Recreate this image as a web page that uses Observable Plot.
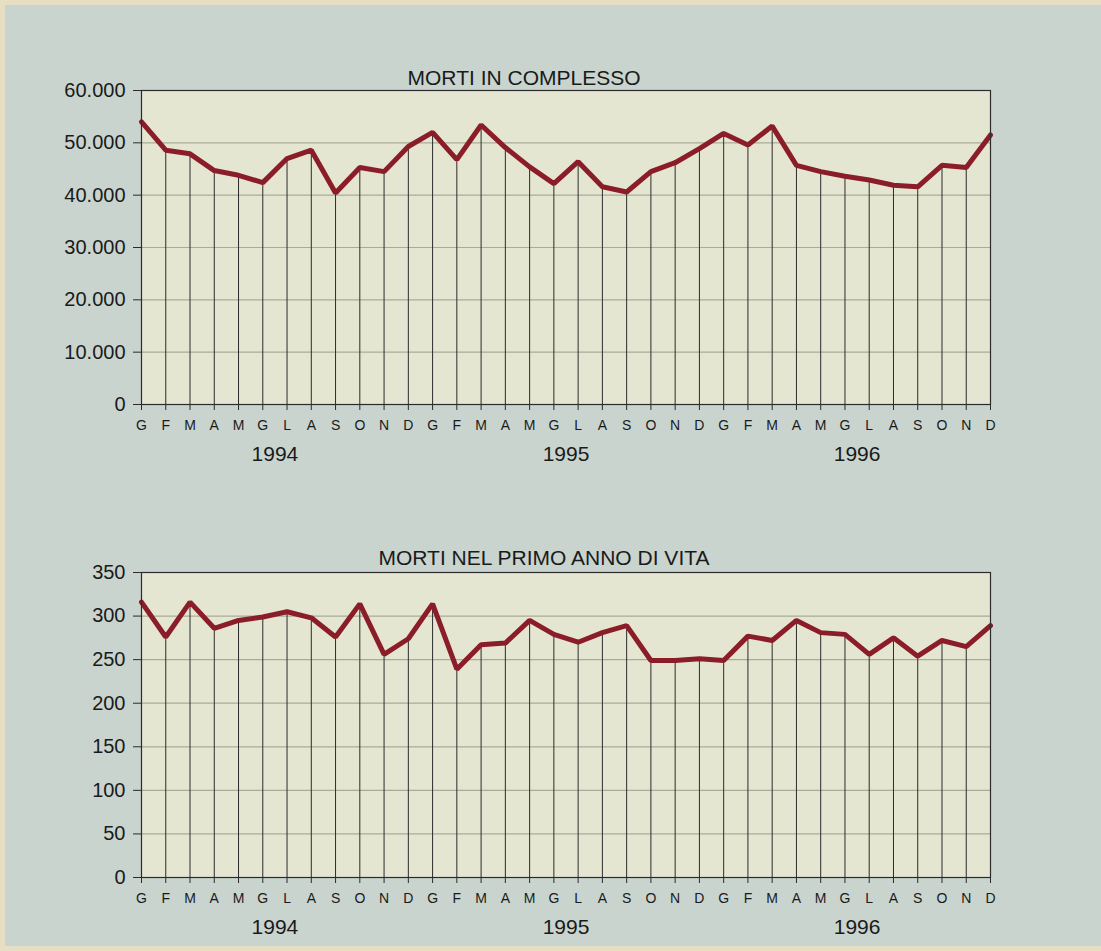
<!DOCTYPE html>
<html>
<head>
<meta charset="utf-8">
<script src="https://cdn.jsdelivr.net/npm/d3@7"></script>
<script src="https://cdn.jsdelivr.net/npm/@observablehq/plot@0.6"></script>
<style>
  html, body { margin: 0; padding: 0; }
  body { width: 1101px; height: 951px; background: #e6dfc3; overflow: hidden; font-family: "Liberation Sans", Arial, sans-serif; }
  #page { position: absolute; left: 5px; top: 5px; width: 1096px; height: 941px; background: #c9d4cf; }
  #top, #bottom { position: absolute; left: 0; }
  #top { top: 0; }
  #bottom { top: 475px; }
</style>
</head>
<body>
<div id="page"></div>
<div id="top"></div>
<div id="bottom"></div>
<script>
const months = ["G","F","M","A","M","G","L","A","S","O","N","D"];
const years = ["1994","1995","1996"];

const totale1994 = [54000,48600,47900,44700,43800,42400,47000,48600,40400,45300,44500,49300];
const totale1995 = [52000,46800,53400,49100,45400,42200,46400,41600,40600,44500,46200,48900];
const totale1996 = [51800,49600,53200,45700,44500,43600,42900,41900,41600,45700,45300,51500];

const infantile1994 = [316,276,316,286,295,299,305,298,276,314,256,274];
const infantile1995 = [314,239,267,269,295,279,270,281,289,249,249,251];
const infantile1996 = [249,277,272,295,281,279,256,275,254,272,265,289];

const titleTop = "MORTI IN COMPLESSO";
const titleBottom = "MORTI NEL PRIMO ANNO DI VITA";

const topTicks = [0,10000,20000,30000,40000,50000,60000];
const bottomTicks = [0,50,100,150,200,250,300,350];

function toRows(...series) {
  return series.flat().map((v, i) => ({i, v}));
}
const fmtIt = d => d3.format(",")(d).replace(/,/g, ".");

function chart({rows, ticks, yMax, title, height, marginTop, marginBottom, titleDx, titleDy, yearDy}) {
  const n = rows.length;
  return Plot.plot({
    width: 1101,
    height,
    marginLeft: 141,
    marginRight: 111,
    marginTop,
    marginBottom,
    style: {background: "transparent", fontFamily: "'Liberation Sans', Arial, sans-serif", color: "#1a1a1a"},
    x: {type: "linear", domain: [0, n - 1]},
    y: {domain: [0, yMax]},
    marks: [
      Plot.frame({fill: "#e5e6d2", stroke: "none"}),
      Plot.ruleY(ticks, {stroke: "#a7ab98", strokeWidth: 1.2}),
      Plot.ruleX(rows, {x: "i", y1: () => 0, y2: "v", stroke: "#2b2b2b", strokeWidth: 1}),
      Plot.line(rows, {x: "i", y: "v", stroke: "#8b1d29", strokeWidth: 5, strokeLinejoin: "miter"}),
      Plot.frame({stroke: "#2b2b2b", strokeWidth: 1.2}),
      Plot.axisY({ticks, tickFormat: fmtIt, tickSize: 8, tickPadding: 8, fontSize: 20, label: null, stroke: "#2b2b2b"}),
      Plot.axisX({ticks: d3.range(n), tickFormat: i => months[i % 12], tickSize: 6, tickPadding: 10, fontSize: 14, label: null, stroke: "#2b2b2b"}),
      Plot.text(years, {x: (d, k) => k * 12 + 5.5, y: () => 0, text: d => d, dy: yearDy, fontSize: 21, fill: "#1a1a1a"}),
      Plot.text([title], {frameAnchor: "top", text: d => d, dx: titleDx, dy: titleDy, fontSize: 21, fill: "#1a1a1a"})
    ]
  });
}

document.getElementById("top").append(chart({
  rows: toRows(totale1994, totale1995, totale1996),
  ticks: topTicks, yMax: 60000, title: titleTop,
  height: 475, marginTop: 90, marginBottom: 71,
  titleDx: -42, titleDy: -20, yearDy: 50
}));

document.getElementById("bottom").append(chart({
  rows: toRows(infantile1994, infantile1995, infantile1996),
  ticks: bottomTicks, yMax: 350, title: titleBottom,
  height: 476, marginTop: 97, marginBottom: 74,
  titleDx: -22, titleDy: -22, yearDy: 50
}));
</script>
</body>
</html>
